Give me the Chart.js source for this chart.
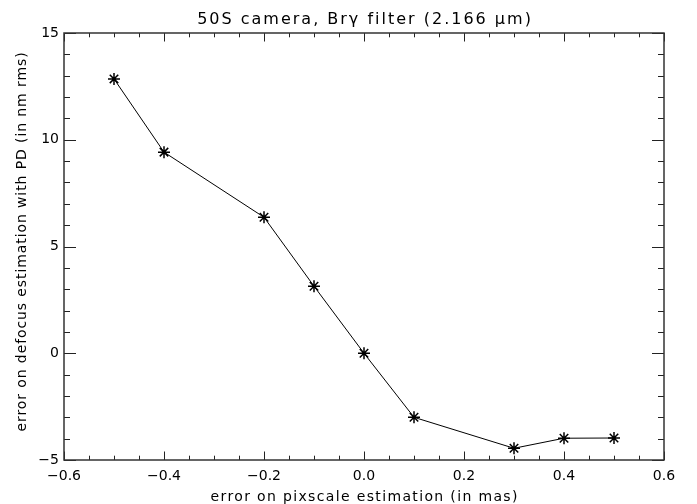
<html>
<head>
<script src="https://cdn.jsdelivr.net/npm/chart.js"></script>
<style>
  body { margin: 0; background: #fff; }
  #wrap { width: 697px; height: 504px; }
</style>
</head>
<body>
<div id="wrap"><canvas id="myChart"></canvas></div>
<script>
const pixscaleErr = [-0.5, -0.4, -0.2, -0.1, 0.0, 0.1, 0.3, 0.4, 0.5];
const defocusErr = [12.85, 9.42, 6.37, 3.14, 0.0, -3.0, -4.45, -3.98, -3.97];

const titleText = '50S camera, Br\u03b3 filter (2.166 \u03bcm)';
const xTitle = 'error on pixscale estimation (in mas)';
const yTitle = 'error on defocus estimation with PD (in nm rms)';

const FONT = 'DejaVu Sans, sans-serif';

function fmt(v, dec) {
  if (Math.abs(v) < 1e-9) v = 0;
  const s = Math.abs(v).toFixed(dec);
  return v < 0 ? '\u2212' + s : s;
}

// IDL-style inward ticks on all four sides + widely spaced titles
const idlPlugin = {
  id: 'idl',
  afterDraw(chart) {
    const ctx = chart.ctx;
    const xs = chart.scales.x, ys = chart.scales.y;
    const a = chart.chartArea;
    ctx.save();
    ctx.strokeStyle = '#222';
    ctx.lineWidth = 1;
    ctx.beginPath();
    for (let i = -12; i <= 12; i++) {
      const v = i * 0.05;
      const px = Math.round(xs.getPixelForValue(v)) + 0.5;
      const len = (i % 4 === 0) ? 8.5 : 4.3;
      ctx.moveTo(px, a.bottom); ctx.lineTo(px, a.bottom - len);
      ctx.moveTo(px, a.top); ctx.lineTo(px, a.top + len);
    }
    for (let v = -5; v <= 15; v++) {
      const py = Math.round(ys.getPixelForValue(v)) + 0.5;
      const len = (v % 5 === 0) ? 12 : 6;
      ctx.moveTo(a.left, py); ctx.lineTo(a.left + len, py);
      ctx.moveTo(a.right, py); ctx.lineTo(a.right - len, py);
    }
    ctx.stroke();
    ctx.strokeStyle = '#333';
    ctx.lineWidth = 1.5;
    ctx.strokeRect(a.left, a.top, a.right - a.left, a.bottom - a.top);

    const cx = (a.left + a.right) / 2, cy = (a.top + a.bottom) / 2;
    ctx.fillStyle = '#000';
    ctx.textAlign = 'center';
    ctx.textBaseline = 'alphabetic';

    ctx.font = '16px ' + FONT;
    ctx.letterSpacing = '2px';
    ctx.fillText(titleText, cx + 1, 24);

    ctx.font = '14px ' + FONT;
    ctx.letterSpacing = '1.35px';
    ctx.fillText(xTitle, cx + 0.7, 501);

    ctx.letterSpacing = '0.9px';
    ctx.translate(26, cy - 5);
    ctx.rotate(-Math.PI / 2);
    ctx.fillText(yTitle, 0, 0);
    ctx.restore();
  }
};

const data = {
  datasets: [{
    data: pixscaleErr.map((x, i) => ({ x: x, y: defocusErr[i] })),
    showLine: true,
    borderColor: '#000',
    borderWidth: 1,
    pointStyle: 'star',
    pointRadius: 6,
    pointBorderWidth: 1.5,
    pointBorderColor: '#000',
    pointBackgroundColor: '#000',
    tension: 0
  }]
};

const options = {
  animation: false,
  responsive: false,
  layout: { padding: { left: 0, right: 33, top: 33, bottom: 0 } },
  scales: {
    x: {
      type: 'linear',
      min: -0.6, max: 0.6,
      grid: { display: false, drawTicks: false },
      border: { display: false },
      ticks: {
        stepSize: 0.2,
        padding: 8,
        color: '#000',
        font: { family: FONT, size: 14 },
        maxRotation: 0,
        callback: v => fmt(v, 1)
      },
      afterFit(s) { s.height = 44; }
    },
    y: {
      type: 'linear',
      min: -5, max: 15,
      grid: { display: false, drawTicks: false },
      border: { display: false },
      ticks: {
        stepSize: 5,
        padding: 5,
        color: '#000',
        font: { family: FONT, size: 14 },
        callback: v => fmt(v, 0)
      },
      afterFit(s) { s.width = 64; }
    }
  },
  plugins: {
    legend: { display: false },
    tooltip: { enabled: false },
    title: { display: false }
  }
};

const canvas = document.getElementById('myChart');
canvas.width = 697; canvas.height = 504;
new Chart(canvas, { type: 'scatter', data, options, plugins: [idlPlugin] });
</script>
</body>
</html>
